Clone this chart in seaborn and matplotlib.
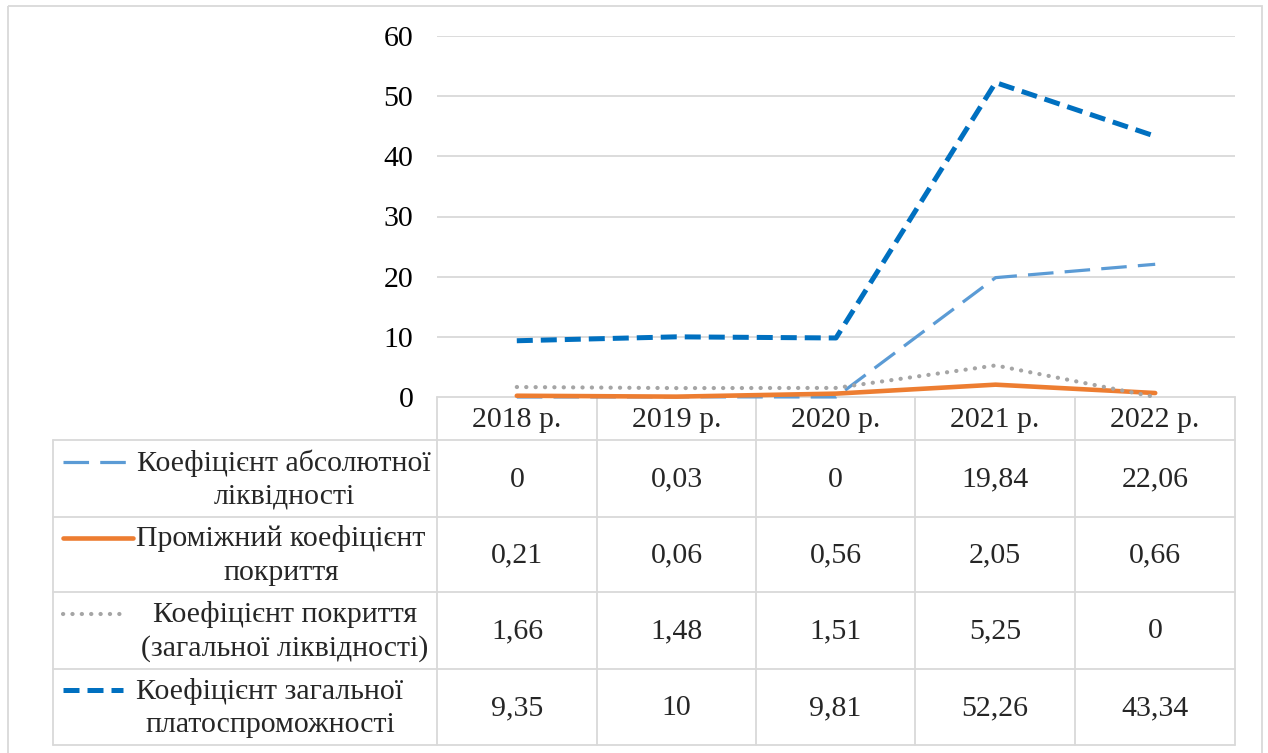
import numpy as np
import pandas as pd
import matplotlib
matplotlib.use("Agg")
import matplotlib.pyplot as plt
import seaborn as sns
from matplotlib.lines import Line2D
from matplotlib.patches import Rectangle

# ---------------- data ----------------
years = ["2018 р.", "2019 р.", "2020 р.", "2021 р.", "2022 р."]
series_names = [
    "Коефіцієнт абсолютної\nліквідності",
    "Проміжний коефіцієнт\nпокриття",
    "Коефіцієнт покриття\n(загальної ліквідності)",
    "Коефіцієнт загальної\nплатоспроможності",
]
abs_liq = [0, 0.03, 0, 19.84, 22.06]
interim_cov = [0.21, 0.06, 0.56, 2.05, 0.66]
coverage = [1.66, 1.48, 1.51, 5.25, 0]
solvency = [9.35, 10, 9.81, 52.26, 43.34]
table_text = [
    ["0", "0,03", "0", "19,84", "22,06"],
    ["0,21", "0,06", "0,56", "2,05", "0,66"],
    ["1,66", "1,48", "1,51", "5,25", "0"],
    ["9,35", "10", "9,81", "52,26", "43,34"],
]
y_ticks = [0, 10, 20, 30, 40, 50, 60]

# ---------------- styles ----------------
styles = [
    dict(color="#5b9bd5", linewidth=2.3, linestyle=(0, (8, 3.5)), dash_capstyle="butt"),
    dict(color="#ed7d31", linewidth=3.3, linestyle="-", solid_capstyle="round"),
    dict(color="#a5a5a5", linewidth=3.0, linestyle=(0, (0.05, 2.2)), dash_capstyle="round"),
    dict(color="#0070c0", linewidth=3.6, linestyle=(0, (3.2, 1.6)), dash_capstyle="butt"),
]
values = [abs_liq, interim_cov, coverage, solvency]

sns.set_theme(style="white")
plt.rcParams["font.family"] = ["Liberation Serif", "DejaVu Serif"]
FS = 21.5

W, H = 1268, 753
fig = plt.figure(figsize=(W / 100, H / 100), dpi=100)
fig.patch.set_facecolor("white")

def px(x0, y0, x1, y1):
    return [x0 / W, 1 - y1 / H, (x1 - x0) / W, (y1 - y0) / H]

# overlay for table / frame
ov = fig.add_axes([0, 0, 1, 1], zorder=0)
ov.set_xlim(0, W)
ov.set_ylim(H, 0)
ov.axis("off")

ax = fig.add_axes(px(437, 36, 1235, 397), zorder=1)
ax.patch.set_alpha(0)

xpos = np.arange(len(years)) + 0.5
for name, vals, st in zip(series_names, values, styles):
    df = pd.DataFrame({"x": xpos, "y": vals})
    sns.lineplot(data=df, x="x", y="y", ax=ax, clip_on=False, **st)

ax.set_xlim(0, len(years))
ax.set_ylim(0, 60)
ax.set_yticks(y_ticks)
ax.set_yticklabels([str(t) for t in y_ticks], fontsize=FS, color="black")
ax.tick_params(axis="y", length=0, pad=17)
ax.set_xticks([])
ax.set_xlabel("")
ax.set_ylabel("")
for s in ax.spines.values():
    s.set_visible(False)
for t in y_ticks[1:]:
    ax.axhline(t, color="#d9d9d9", linewidth=1.3, zorder=0)

# ---------------- frame ----------------
ov.add_patch(Rectangle((8, 6), 1254, 760, fill=False, edgecolor="#d9d9d9", linewidth=1.3))

# ---------------- table ----------------
gc = "#d9d9d9"
glw = 1.3
col_x = [437, 597, 756, 915, 1075, 1235]
row_y = [397, 440, 517, 592, 669, 745]
left_x = 53
text_cx = [284, 281, 285, 270]
key_end = [133, 133, 125, 123]

ov.plot([col_x[0], col_x[-1]], [row_y[0]] * 2, color=gc, lw=glw)
for y in row_y[1:]:
    ov.plot([left_x, col_x[-1]], [y, y], color=gc, lw=glw)
for x in col_x:
    ov.plot([x, x], [row_y[0], row_y[-1]], color=gc, lw=glw)
ov.plot([left_x, left_x], [row_y[1], row_y[-1]], color=gc, lw=glw)

for j, yr in enumerate(years):
    cx = (col_x[j] + col_x[j + 1]) / 2
    ov.text(cx, (row_y[0] + row_y[1]) / 2 + 1, yr, ha="center", va="center", fontsize=FS)

for i, (name, st) in enumerate(zip(series_names, styles)):
    cy = (row_y[i + 1] + row_y[i + 2]) / 2
    ov.text(text_cx[i], cy + 1, name, ha="center", va="center", multialignment="center",
            fontsize=FS, linespacing=1.35)
    ov.add_line(Line2D([63, key_end[i]], [cy - 17, cy - 17], **st))
    for j in range(len(years)):
        cx = (col_x[j] + col_x[j + 1]) / 2
        ov.text(cx, cy + 1, table_text[i][j], ha="center", va="center", fontsize=FS)

fig.savefig("out.png", dpi=100, facecolor="white")
